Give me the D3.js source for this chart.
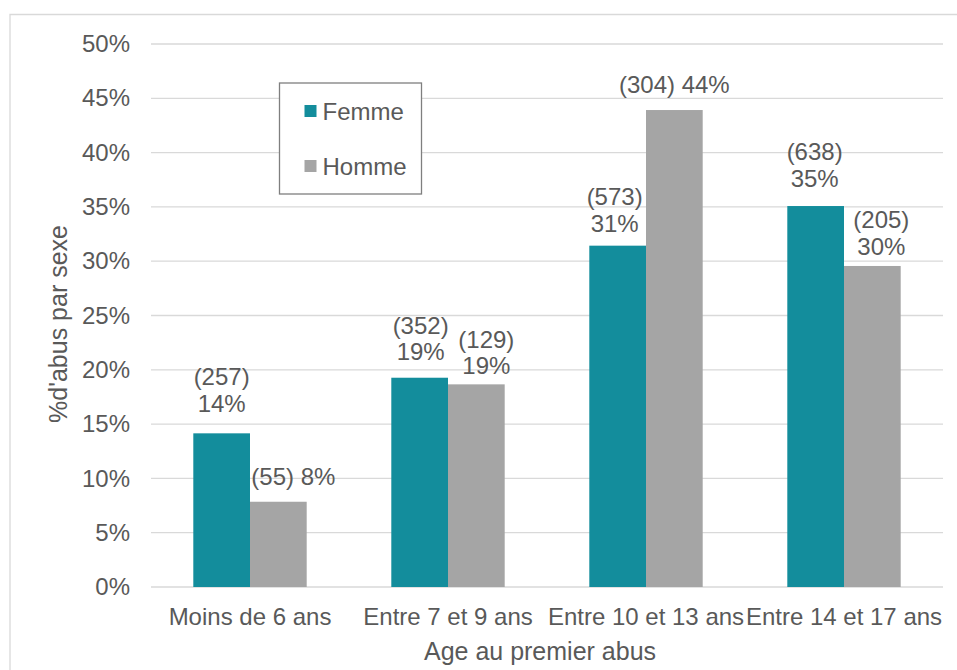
<!DOCTYPE html>
<html>
<head>
<meta charset="utf-8">
<script src="https://cdn.jsdelivr.net/npm/d3@7"></script>
<style>
  html, body { margin: 0; padding: 0; background: #fff; }
  svg { display: block; font-family: "Liberation Sans", Arial, sans-serif; }
</style>
</head>
<body>
<svg id="chart" width="957" height="670"></svg>
<script>
// ---- data ----
const categories = ["Moins de 6 ans", "Entre 7 et 9 ans", "Entre 10 et 13 ans", "Entre 14 et 17 ans"];
const seriesNames = ["Femme", "Homme"];
const femmeValues = [0.1415, 0.1927, 0.3143, 0.3508];
const hommeValues = [0.0785, 0.1866, 0.4392, 0.2956];
const femmeCounts = [257, 352, 573, 638];
const hommeCounts = [55, 129, 304, 205];
const yTickValues = [0, 0.05, 0.10, 0.15, 0.20, 0.25, 0.30, 0.35, 0.40, 0.45, 0.50];
const xAxisTitle = "Age au premier abus";
const yAxisTitle = "%d'abus par sexe";

// ---- layout (label placement as in the reference) ----
const labelLayout = {
  Femme: [ {oneLine:false, dx:0,  gap:21.6}, {oneLine:false, dx:1,  gap:17.7}, {oneLine:false, dx:-3, gap:14},   {oneLine:false, dx:-1, gap:19.3} ],
  Homme: [ {oneLine:true,  dx:15, gap:16.7}, {oneLine:false, dx:10, gap:10.3}, {oneLine:true,  dx:0,  gap:16.7}, {oneLine:false, dx:9,  gap:11} ]
};
const colors = { Femme: "#138D9C", Homme: "#A5A5A5" };
const textColor = "#595959";
const fontSize = 24;
const titleSize = 25;

const svg = d3.select("#chart");

// chart frame
svg.append("path")
  .attr("d", "M10,680 L10,14.5 L970,14.5")
  .attr("fill", "none").attr("stroke", "#d9d9d9").attr("stroke-width", 1.3);

const plot = { left: 151, right: 943, top: 44, bottom: 587 };

const x0 = d3.scaleBand().domain(categories).range([plot.left, plot.right]).paddingInner(0).paddingOuter(0);
const x1 = d3.scaleBand().domain(seriesNames).range([0, x0.bandwidth()]).paddingInner(0).paddingOuter(0.746);
const y = d3.scaleLinear().domain([0, 0.5]).range([plot.bottom, plot.top]);

// gridlines
svg.append("g").selectAll("line").data(yTickValues).join("line")
  .attr("x1", plot.left).attr("x2", plot.right)
  .attr("y1", d => y(d)).attr("y2", d => y(d))
  .attr("stroke", "#d9d9d9").attr("stroke-width", 1.3);

// y axis labels
const yAxis = d3.axisLeft(y).tickValues(yTickValues).tickFormat(d3.format(".0%")).tickSize(0).tickPadding(0);
const gy = svg.append("g").attr("transform", `translate(130,0)`).call(yAxis);
gy.select(".domain").remove();
gy.selectAll("text").attr("fill", textColor).style("font-size", fontSize + "px")
  .style("font-family", "'Liberation Sans', Arial, sans-serif");

// x axis labels
const xAxis = d3.axisBottom(x0).tickSize(0).tickPadding(0);
const gx = svg.append("g").attr("transform", `translate(0,${plot.bottom})`).call(xAxis);
gx.select(".domain").remove();
gx.selectAll("text").attr("fill", textColor).attr("dy", null).attr("y", 38)
  .style("font-size", fontSize + "px").style("font-family", "'Liberation Sans', Arial, sans-serif");

// bars
const rows = [];
seriesNames.forEach(s => {
  const vals = s === "Femme" ? femmeValues : hommeValues;
  const counts = s === "Femme" ? femmeCounts : hommeCounts;
  categories.forEach((c, i) => rows.push({ series: s, cat: c, value: vals[i], count: counts[i], lay: labelLayout[s][i] }));
});

svg.append("g").selectAll("rect").data(rows).join("rect")
  .attr("x", d => x0(d.cat) + x1(d.series))
  .attr("y", d => y(d.value))
  .attr("width", x1.bandwidth())
  .attr("height", d => y(0) - y(d.value))
  .attr("fill", d => colors[d.series]);

// data labels
const pct = d3.format(".0%");
const lineH = 26.5;
const lg = svg.append("g").attr("fill", textColor).style("font-size", fontSize + "px").attr("text-anchor", "middle");
rows.forEach(d => {
  const cx = x0(d.cat) + x1(d.series) + x1.bandwidth() / 2 + d.lay.dx;
  const base = y(d.value) - d.lay.gap;
  const lines = d.lay.oneLine ? [`(${d.count}) ${pct(d.value)}`] : [`(${d.count})`, pct(d.value)];
  lines.forEach((t, k) => {
    lg.append("text").attr("x", cx).attr("y", base - (lines.length - 1 - k) * lineH).text(t);
  });
});

// axis titles
svg.append("text").attr("x", 540).attr("y", 660)
  .attr("text-anchor", "middle").attr("fill", textColor).style("font-size", titleSize + "px").text(xAxisTitle);
svg.append("text").attr("transform", `translate(67,324) rotate(-90)`)
  .attr("text-anchor", "middle").attr("fill", textColor).style("font-size", titleSize + "px").text(yAxisTitle);

// legend
const legend = svg.append("g");
legend.append("rect").attr("x", 279.5).attr("y", 83).attr("width", 142).attr("height", 111)
  .attr("fill", "#fff").attr("stroke", "#7f7f7f").attr("stroke-width", 1.3);
const li = legend.selectAll("g.item").data(seriesNames).join("g").attr("class", "item")
  .attr("transform", (d, i) => `translate(304.5,${105 + i * 55})`);
li.append("rect").attr("width", 12).attr("height", 12).attr("fill", d => colors[d]);
li.append("text").attr("x", 18).attr("y", 14.5).attr("fill", textColor).style("font-size", fontSize + "px").text(d => d);
</script>
</body>
</html>
